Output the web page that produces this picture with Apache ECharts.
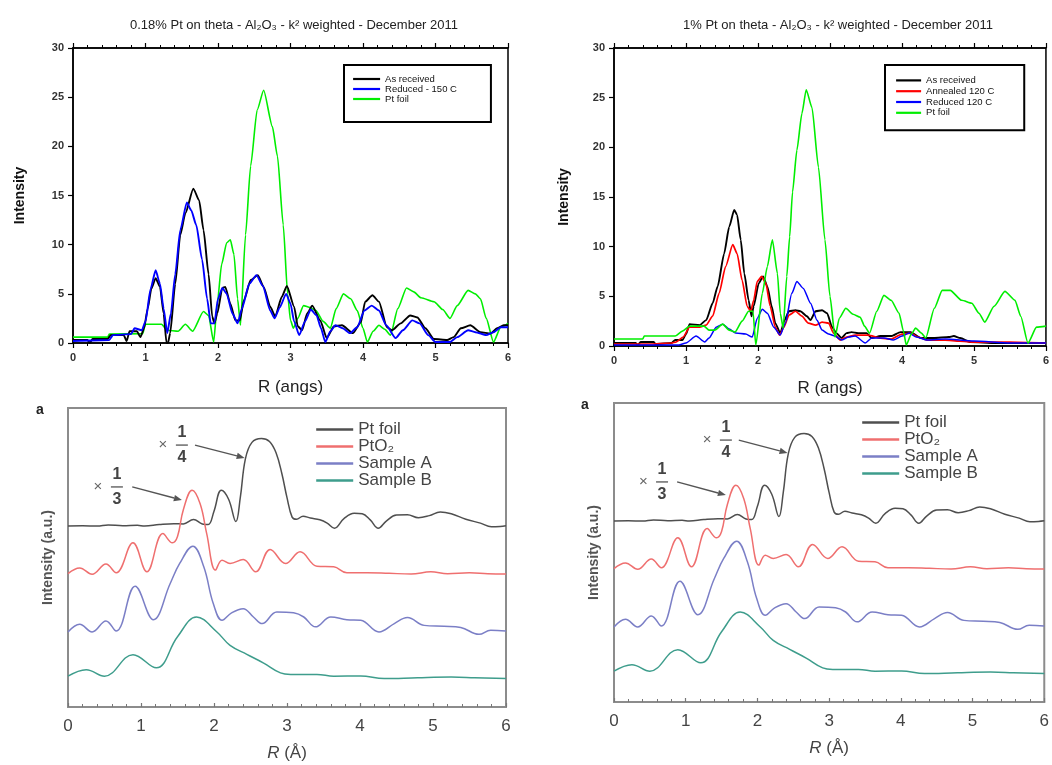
<!DOCTYPE html>
<html><head><meta charset="utf-8">
<script src="https://cdn.jsdelivr.net/npm/echarts/dist/echarts.min.js"></script>
<style>html,body{margin:0;padding:0;background:#fff}#c{width:1052px;height:765px}</style>
</head><body><div id="c"></div><script>
// ---------------- data (R in Å, intensity) ----------------
const xTickLabels = [0,1,2,3,4,5,6];
const topTitles = ['0.18% Pt on theta - Al\u2082O\u2083 - k\u00B2 weighted - December 2011',
                   '1% Pt on theta - Al\u2082O\u2083 - k\u00B2 weighted - December 2011'];

// top-left panel: 0.18% Pt
const tlAsReceived = [[0,0.3],[0.2,0.3],[0.23,0],[0.27,0.4],[0.48,0.4],[0.52,0.8],[0.7,0.8],[0.74,0.2],[0.78,1.2],[0.88,1.2],[0.93,0.6],[0.98,1.5],[1.03,3.5],[1.08,5.5],[1.14,6.6],[1.2,5.7],[1.25,3.0],[1.29,0],[1.31,0],[1.34,1.0],[1.41,6.0],[1.48,11.0],[1.55,13.2],[1.66,15.7],[1.74,14.5],[1.8,11.5],[1.87,7.0],[1.92,2.7],[1.95,2.0],[1.99,3.0],[2.06,5.6],[2.1,5.7],[2.17,4.0],[2.24,2.3],[2.3,2.3],[2.36,4.4],[2.45,6.4],[2.55,6.9],[2.63,5.7],[2.72,3.7],[2.79,2.7],[2.88,4.7],[2.95,5.8],[3.05,3.7],[3.1,1.7],[3.16,1.3],[3.23,3.0],[3.3,3.8],[3.41,2.3],[3.5,0.5],[3.6,1.7],[3.71,1.8],[3.86,1.0],[3.97,2.1],[4.03,4.2],[4.13,4.85],[4.22,4.2],[4.33,1.6],[4.4,1.3],[4.52,2.0],[4.65,2.8],[4.75,2.6],[4.86,1.5],[4.98,0.4],[5.16,0.3],[5.25,0.6],[5.35,1.5],[5.48,1.8],[5.62,1.1],[5.76,0.95],[5.85,1.5],[5.94,1.8],[6.0,1.8]];
const tlReduced150 = [[0,0.2],[0.5,0.3],[0.55,0.8],[0.8,0.9],[0.85,1.5],[0.95,1.3],[1.0,2.2],[1.07,5.5],[1.14,7.4],[1.2,6.0],[1.25,3.5],[1.3,1.0],[1.35,3.0],[1.41,7.0],[1.48,11.5],[1.57,14.3],[1.63,13.5],[1.7,12.0],[1.78,8.5],[1.85,4.5],[1.9,2.0],[1.95,2.0],[2.0,4.5],[2.06,5.6],[2.12,5.0],[2.2,3.0],[2.27,2.0],[2.33,3.5],[2.43,6.0],[2.53,6.9],[2.62,5.8],[2.72,3.3],[2.78,2.5],[2.85,3.6],[2.94,5.0],[3.0,4.0],[3.05,2.2],[3.12,0.8],[3.2,2.2],[3.28,3.4],[3.36,2.8],[3.42,1.5],[3.48,0.1],[3.55,1.2],[3.62,1.8],[3.72,1.5],[3.82,1.0],[3.92,1.6],[4.02,3.3],[4.12,3.8],[4.22,3.3],[4.32,1.8],[4.45,0.5],[4.55,1.3],[4.68,2.3],[4.78,2.0],[4.9,0.8],[5.0,0.1],[5.2,0.1],[5.3,0.6],[5.45,1.3],[5.55,1.1],[5.7,0.8],[5.8,1.1],[5.9,1.6],[6.0,1.6]];
const tlPtFoil = [[0,0.6],[0.48,0.6],[0.5,0.9],[0.96,0.95],[1.0,1.9],[1.22,1.9],[1.3,1.3],[1.45,1.2],[1.55,1.9],[1.65,1.2],[1.8,3.2],[1.87,2.8],[1.94,0.1],[1.99,4],[2.05,8],[2.12,10.2],[2.17,10.5],[2.22,9],[2.27,4.5],[2.31,1.8],[2.38,11],[2.45,18],[2.54,23.7],[2.63,25.7],[2.75,22],[2.82,19],[2.9,12],[2.96,5],[3.0,2.3],[3.04,1.5],[3.1,2.5],[3.18,3.8],[3.27,3.6],[3.35,3.3],[3.45,2.2],[3.55,1.5],[3.63,3.5],[3.73,5.0],[3.83,4.5],[3.92,3.3],[4.0,1.5],[4.06,0.1],[4.14,1.2],[4.22,1.8],[4.3,1.4],[4.38,0.8],[4.48,3.5],[4.6,5.6],[4.7,5.2],[4.8,4.6],[4.98,4.2],[5.1,3.4],[5.2,2.5],[5.3,3.8],[5.45,5.35],[5.55,5.0],[5.62,4.5],[5.7,2.5],[5.8,0.1],[5.9,1.6],[6.0,2.0]];

// top-right panel: 1% Pt
const trAsReceived = [[0,0.3],[0.3,0.3],[0.33,0.1],[0.37,0.4],[0.55,0.4],[0.58,0.2],[0.8,0.3],[0.85,0.6],[0.95,0.6],[1.0,1.2],[1.05,2.2],[1.19,2.1],[1.28,2.6],[1.37,4.3],[1.44,6.0],[1.53,9.3],[1.6,12.0],[1.67,13.7],[1.71,13.2],[1.76,10.7],[1.81,7.3],[1.87,4.6],[1.91,3.0],[1.94,4.0],[2.01,6.3],[2.07,7.0],[2.13,6.0],[2.19,4.0],[2.24,2.3],[2.31,1.3],[2.37,2.6],[2.43,3.5],[2.52,3.6],[2.59,3.5],[2.68,3.0],[2.73,2.6],[2.8,3.5],[2.89,3.6],[2.96,3.3],[3.03,1.9],[3.09,1.3],[3.16,0.8],[3.23,1.3],[3.3,1.4],[3.39,1.3],[3.51,1.3],[3.58,0.8],[3.7,1.0],[3.85,1.0],[3.98,1.4],[4.12,1.4],[4.26,0.8],[4.44,0.8],[4.65,0.9],[4.72,1.0],[4.81,0.8],[4.95,0.4],[5.3,0.3],[5.7,0.3],[6.0,0.3]];
const trAnnealed120 = [[0,0.2],[0.5,0.2],[0.8,0.3],[0.86,0.4],[0.96,0.9],[1.05,1.9],[1.19,1.9],[1.28,2.1],[1.37,3.0],[1.46,5.3],[1.55,8.0],[1.65,10.2],[1.71,9.3],[1.78,6.6],[1.85,4.0],[1.9,3.5],[1.94,4.6],[1.99,6.5],[2.05,7.0],[2.11,6.3],[2.17,4.0],[2.24,1.9],[2.3,1.1],[2.36,1.9],[2.43,3.1],[2.52,3.5],[2.61,3.0],[2.7,2.3],[2.8,2.1],[2.89,2.4],[2.98,2.3],[3.05,1.3],[3.14,0.6],[3.23,0.9],[3.35,1.1],[3.53,1.1],[3.7,0.8],[3.85,0.7],[4.0,1.2],[4.12,1.3],[4.22,0.9],[4.35,0.6],[4.6,0.6],[4.8,0.5],[5.0,0.4],[5.5,0.4],[6.0,0.3]];
const trReduced120 = [[0,0.1],[0.9,0.1],[1.0,0.3],[1.14,1.0],[1.26,0.4],[1.32,0.8],[1.42,1.9],[1.51,2.2],[1.6,1.7],[1.69,1.3],[1.83,1.2],[1.92,0.9],[1.99,2.8],[2.06,3.7],[2.13,3.3],[2.22,1.9],[2.31,1.1],[2.38,2.3],[2.47,5.3],[2.54,6.5],[2.63,5.8],[2.73,4.3],[2.82,2.6],[2.89,1.6],[2.98,1.2],[3.07,1.0],[3.16,0.6],[3.26,0.9],[3.35,1.0],[3.49,0.3],[3.58,0.8],[3.75,0.8],[3.88,0.6],[4.0,1.0],[4.1,1.3],[4.2,0.9],[4.35,0.6],[4.6,0.7],[5.0,0.5],[5.5,0.3],[6.0,0.3]];
const trPtFoil = [[0,0.7],[0.4,0.7],[0.42,1.0],[0.85,1.0],[0.95,1.5],[1.05,2.0],[1.25,2.0],[1.32,1.6],[1.4,1.6],[1.51,2.2],[1.6,1.6],[1.68,1.4],[1.78,2.5],[1.87,3.5],[1.93,3.5],[1.97,0.1],[2.06,5.3],[2.13,8],[2.2,10.7],[2.27,7.3],[2.31,3.3],[2.35,1.8],[2.4,7],[2.44,11],[2.48,15.5],[2.54,19.7],[2.61,23.4],[2.67,25.8],[2.75,24],[2.84,18],[2.93,10.7],[3.0,5],[3.07,0.9],[3.13,2.8],[3.22,3.8],[3.32,3.2],[3.42,2.9],[3.48,2.0],[3.55,1.3],[3.65,3.5],[3.75,5.1],[3.85,4.6],[3.96,3.3],[4.02,1.5],[4.06,0.1],[4.13,1.2],[4.19,1.8],[4.27,1.3],[4.33,0.8],[4.45,3.8],[4.56,5.6],[4.67,5.6],[4.83,4.6],[4.97,4.3],[5.07,3.3],[5.15,2.4],[5.28,4.0],[5.43,5.5],[5.57,4.6],[5.65,3],[5.75,0.3],[5.87,1.9],[6.0,2.0]];

// bottom panels (same figure twice): intensity in a.u., curves stacked
const bPtFoil = [[0,60.5],[0.2,60.6],[0.4,60.5],[0.55,60.9],[0.75,60.6],[0.95,60.8],[1.05,60.5],[1.25,61.0],[1.45,61.3],[1.58,61.2],[1.72,62.7],[1.84,61.2],[1.92,61.0],[2.0,65.5],[2.1,72.5],[2.2,69.5],[2.3,62.0],[2.36,70],[2.43,83],[2.52,88.5],[2.65,89.8],[2.76,88.8],[2.85,85],[2.93,78],[3.0,70],[3.07,63.5],[3.13,62.8],[3.22,63.8],[3.32,63.2],[3.45,62.6],[3.55,61.5],[3.65,59.8],[3.78,63],[3.92,64.8],[4.03,64.6],[4.14,62.6],[4.25,59.8],[4.36,62.2],[4.5,64.2],[4.65,64.3],[4.8,63.3],[4.95,64.0],[5.1,65.2],[5.25,64.6],[5.45,62.8],[5.65,61.5],[5.8,60.3],[5.92,60.4],[6.0,60.6]];
const bPtO2 = [[0,44.6],[0.16,46.5],[0.33,44.4],[0.52,47.8],[0.66,44.9],[0.89,54.9],[1.08,45.2],[1.3,58.0],[1.43,54.9],[1.5,57],[1.58,66],[1.7,72.5],[1.81,68],[1.9,58],[2.02,45.8],[2.11,49.1],[2.22,48.0],[2.4,49.3],[2.57,45.2],[2.77,52.7],[2.98,48.0],[3.18,51.9],[3.41,47.1],[3.64,46.9],[3.82,44.9],[4.1,44.9],[4.4,44.7],[4.7,44.5],[4.97,45.2],[5.2,44.6],[5.5,44.9],[5.75,44.6],[6.0,44.5]];
const bSampleA = [[0,25.1],[0.16,27.7],[0.33,25.1],[0.52,28.8],[0.66,25.4],[0.92,40.4],[1.17,29.2],[1.4,41.3],[1.53,48.0],[1.71,53.8],[1.86,46.9],[1.99,34.6],[2.11,29.0],[2.24,31.5],[2.4,32.9],[2.54,30.1],[2.66,27.9],[2.86,31.8],[3.09,31.5],[3.23,30.1],[3.39,26.8],[3.6,30.1],[3.82,29.2],[4.01,29.0],[4.26,25.1],[4.47,27.9],[4.65,29.9],[4.88,27.3],[5.15,27.0],[5.38,26.6],[5.63,24.3],[5.79,25.7],[6.0,25.4]];
const bSampleB = [[0,10.3],[0.25,12.5],[0.5,10.3],[0.89,17.5],[1.21,13.1],[1.5,23.5],[1.76,30.1],[2.04,25.1],[2.22,20.6],[2.45,17.6],[2.68,14.7],[2.91,11.4],[3.05,10.9],[3.41,10.9],[3.64,10.3],[4.01,10.4],[4.33,9.5],[4.79,9.8],[5.25,10.0],[5.57,9.8],[6.0,9.5]];

// annotations (data coordinates of the bottom panels)
const annoQuarter = {times:[1.30,87.6], frac:[1.56,87.6], from:[1.74,87.6], to:[2.42,83.3], num:'1', den:'4'};
const annoThird   = {times:[0.41,73.6], frac:[0.67,73.6], from:[0.88,73.6], to:[1.56,69.2], num:'1', den:'3'};

// ---------------- chart ----------------
const FONT = '"Liberation Sans", Arial, Helvetica, sans-serif';
const chart = echarts.init(document.getElementById('c'), null, {renderer:'canvas'});

function topX(gi, pos, gap){
  return {type:'value', gridIndex:gi, position:pos, min:0, max:6, interval:1,
    axisLine:{show:true, onZero:false, lineStyle:{color:'#000', width:1.5}},
    axisTick:{show:true, inside:false, length:5, lineStyle:{color:'#000', width:1.2}},
    minorTick:{show:true, splitNumber:5, length:3, lineStyle:{color:'#000', width:1}},
    splitLine:{show:false}, minorSplitLine:{show:false},
    axisLabel:{show:pos==='bottom', fontSize:11, fontWeight:'bold', color:'#333', margin:9, fontFamily:FONT,
      formatter:v=>xTickLabels.includes(v)?String(v):''},
    name: pos==='bottom' ? 'R (angs)' : '', nameLocation:'middle', nameGap:gap,
    nameTextStyle:{fontSize:17, color:'#222', fontFamily:FONT}};
}
function topY(gi, gap){
  return {type:'value', gridIndex:gi, min:0, max:30, interval:5,
    axisLine:{show:true, onZero:false, lineStyle:{color:'#000', width:1.5}},
    axisTick:{show:true, inside:false, length:5, lineStyle:{color:'#000', width:1.2}},
    splitLine:{show:false},
    axisLabel:{fontSize:11, fontWeight:'bold', color:'#333', margin:9, fontFamily:FONT},
    name:'Intensity', nameLocation:'middle', nameGap:gap, nameRotate:90,
    nameTextStyle:{fontSize:14, fontWeight:'bold', color:'#111', fontFamily:FONT}};
}
function botX(gi){
  return {type:'value', gridIndex:gi, min:0, max:6, interval:1,
    axisLine:{show:true, onZero:false, lineStyle:{color:'#8c8c8c', width:2}},
    axisTick:{show:true, inside:true, length:4, lineStyle:{color:'#777', width:1.2}},
    minorTick:{show:true, splitNumber:5, length:3, lineStyle:{color:'#777', width:1}},
    splitLine:{show:false}, minorSplitLine:{show:false},
    axisLabel:{fontSize:17, color:'#444', margin:11, fontFamily:FONT},
    name:'{i|R} (Å)', nameLocation:'middle', nameGap:38,
    nameTextStyle:{fontSize:17, color:'#444', fontFamily:FONT,
      rich:{i:{fontStyle:'italic', fontSize:17, color:'#444', fontFamily:FONT}}}};
}
function botY(gi){
  return {type:'value', gridIndex:gi, min:0, max:100,
    axisLine:{show:false}, axisTick:{show:false}, axisLabel:{show:false}, splitLine:{show:false},
    name:'Intensity (a.u.)', nameLocation:'middle', nameGap:13, nameRotate:90,
    nameTextStyle:{fontSize:14, fontWeight:'bold', color:'#555', fontFamily:FONT}};
}
function line(name, data, xi, yi, color, width, smooth, mono){
  const s = {type:'line', name, data, xAxisIndex:xi, yAxisIndex:yi, symbol:'none', showSymbol:false,
    smooth, lineStyle:{color, width}, itemStyle:{color}, silent:true, animation:false};
  if (mono) s.smoothMonotone = 'x';
  return s;
}

const C = {pt:'#4f4f4f', pto2:'#ef6f6f', a:'#7b7fc6', b:'#3e9d8c'};

const series = [
  line('Pt foil', tlPtFoil, 0, 0, '#00ee00', 1.6, 0.2, true),
  line('As received', tlAsReceived, 0, 0, '#000000', 1.9, 0.2, true),
  line('Reduced - 150 C', tlReduced150, 0, 0, '#0000ff', 1.9, 0.2, true),

  line('As received ', trAsReceived, 2, 1, '#000000', 1.9, 0.2, true),
  line('Annealed 120 C', trAnnealed120, 2, 1, '#ff0000', 1.7, 0.2, true),
  line('Reduced 120 C', trReduced120, 2, 1, '#0000ff', 1.5, 0.2, true),
  line('Pt foil ', trPtFoil, 2, 1, '#00ee00', 1.6, 0.2, true),

  line('Pt foil  ', bPtFoil, 4, 2, C.pt, 1.5, 0.4, false),
  line('PtO\u2082', bPtO2, 4, 2, C.pto2, 1.5, 0.4, false),
  line('Sample A', bSampleA, 4, 2, C.a, 1.5, 0.4, false),
  line('Sample B', bSampleB, 4, 2, C.b, 1.5, 0.4, false),

  line('Pt foil   ', bPtFoil, 5, 3, C.pt, 1.5, 0.4, false),
  line('PtO\u2082 ', bPtO2, 5, 3, C.pto2, 1.5, 0.4, false),
  line('Sample A ', bSampleA, 5, 3, C.a, 1.5, 0.4, false),
  line('Sample B ', bSampleB, 5, 3, C.b, 1.5, 0.4, false)
];

const noSym = {opacity:0, borderWidth:0};
const option = {
  animation:false,
  backgroundColor:'#fff',
  textStyle:{fontFamily:FONT},
  title:[
    {text:topTitles[0], left:289, top:14, textAlign:'center', textStyle:{fontSize:13, fontWeight:'normal', color:'#222', fontFamily:FONT}},
    {text:topTitles[1], left:833, top:14, textAlign:'center', textStyle:{fontSize:13, fontWeight:'normal', color:'#222', fontFamily:FONT}}
  ],
  grid:[
    {left:73, top:48, width:435, height:295, show:true, borderColor:'#000', borderWidth:1.5},
    {left:614, top:48, width:435, height:298, show:true, borderColor:'#000', borderWidth:1.5},
    {left:68, top:408, width:438, height:299, show:true, borderColor:'#8c8c8c', borderWidth:2},
    {left:614, top:403, width:437, height:299, show:true, borderColor:'#8c8c8c', borderWidth:2}
  ],
  xAxis:[topX(0,'bottom',36), topX(0,'top',0), topX(1,'bottom',34), topX(1,'top',0), botX(2), botX(3)],
  yAxis:[topY(0,46), topY(1,43), botY(2), botY(3)],
  legend:[
    {data:['As received','Reduced - 150 C','Pt foil'], orient:'vertical', left:344, top:65,
     padding:[9,34,18,8], itemGap:0, itemWidth:27, itemHeight:11.5, borderColor:'#000', borderWidth:2,
     selectedMode:false, itemStyle:noSym, lineStyle:{width:2.2}, textStyle:{fontSize:9.5, color:'#111', fontFamily:FONT}},
    {data:['As received ','Annealed 120 C','Reduced 120 C','Pt foil '], orient:'vertical', left:885, top:65,
     padding:[10,30,12,10], itemGap:0, itemWidth:25, itemHeight:13.5, borderColor:'#000', borderWidth:2,
     selectedMode:false, itemStyle:noSym, lineStyle:{width:2.2}, textStyle:{fontSize:9.5, color:'#111', fontFamily:FONT}},
    {data:['Pt foil  ','PtO\u2082','Sample A','Sample B'], orient:'vertical', left:315, top:421,
     padding:0, itemGap:0, itemWidth:37, itemHeight:17.6, selectedMode:false, itemStyle:noSym, lineStyle:{width:2.4},
     textStyle:{fontSize:17, color:'#444', fontFamily:FONT}},
    {data:['Pt foil   ','PtO\u2082 ','Sample A ','Sample B '], orient:'vertical', left:861, top:414,
     padding:0, itemGap:0, itemWidth:37, itemHeight:17.6, selectedMode:false, itemStyle:noSym, lineStyle:{width:2.4},
     textStyle:{fontSize:17, color:'#444', fontFamily:FONT}}
  ],
  series
};
chart.setOption(option);

// annotations positioned from data coordinates
function annoGraphics(gridIndex, a){
  const p = v => chart.convertToPixel({gridIndex}, v);
  const t = p(a.times), f = p(a.frac), s = p(a.from), e = p(a.to);
  const ang = Math.atan2(e[1]-s[1], e[0]-s[0]);
  const L = 8, W = 3.2;
  const bx = e[0]-L*Math.cos(ang), by = e[1]-L*Math.sin(ang);
  return [
    {type:'text', x:t[0], y:t[1], style:{text:'\u00D7', fill:'#666', font:'15px '+FONT, align:'center', verticalAlign:'middle'}},
    {type:'text', x:f[0], y:f[1]-12, style:{text:a.num, fill:'#444', font:'bold 16px '+FONT, align:'center', verticalAlign:'middle'}},
    {type:'line', shape:{x1:f[0]-6, y1:f[1], x2:f[0]+6, y2:f[1]}, style:{stroke:'#555', lineWidth:1.3}},
    {type:'text', x:f[0], y:f[1]+13, style:{text:a.den, fill:'#444', font:'bold 16px '+FONT, align:'center', verticalAlign:'middle'}},
    {type:'line', shape:{x1:s[0], y1:s[1], x2:bx, y2:by}, style:{stroke:'#555', lineWidth:1.4}},
    {type:'polygon', shape:{points:[[e[0],e[1]],
      [bx - W*Math.sin(ang), by + W*Math.cos(ang)],
      [bx + W*Math.sin(ang), by - W*Math.cos(ang)]]}, style:{fill:'#555'}}
  ];
}
const g = [].concat(
  annoGraphics(2, annoQuarter), annoGraphics(2, annoThird),
  annoGraphics(3, annoQuarter), annoGraphics(3, annoThird),
  [{type:'text', x:40, y:410, style:{text:'a', fill:'#222', font:'bold 14px '+FONT, align:'center', verticalAlign:'middle'}},
   {type:'text', x:585, y:405, style:{text:'a', fill:'#222', font:'bold 14px '+FONT, align:'center', verticalAlign:'middle'}}]
);
chart.setOption({graphic:g});
</script></body></html>
